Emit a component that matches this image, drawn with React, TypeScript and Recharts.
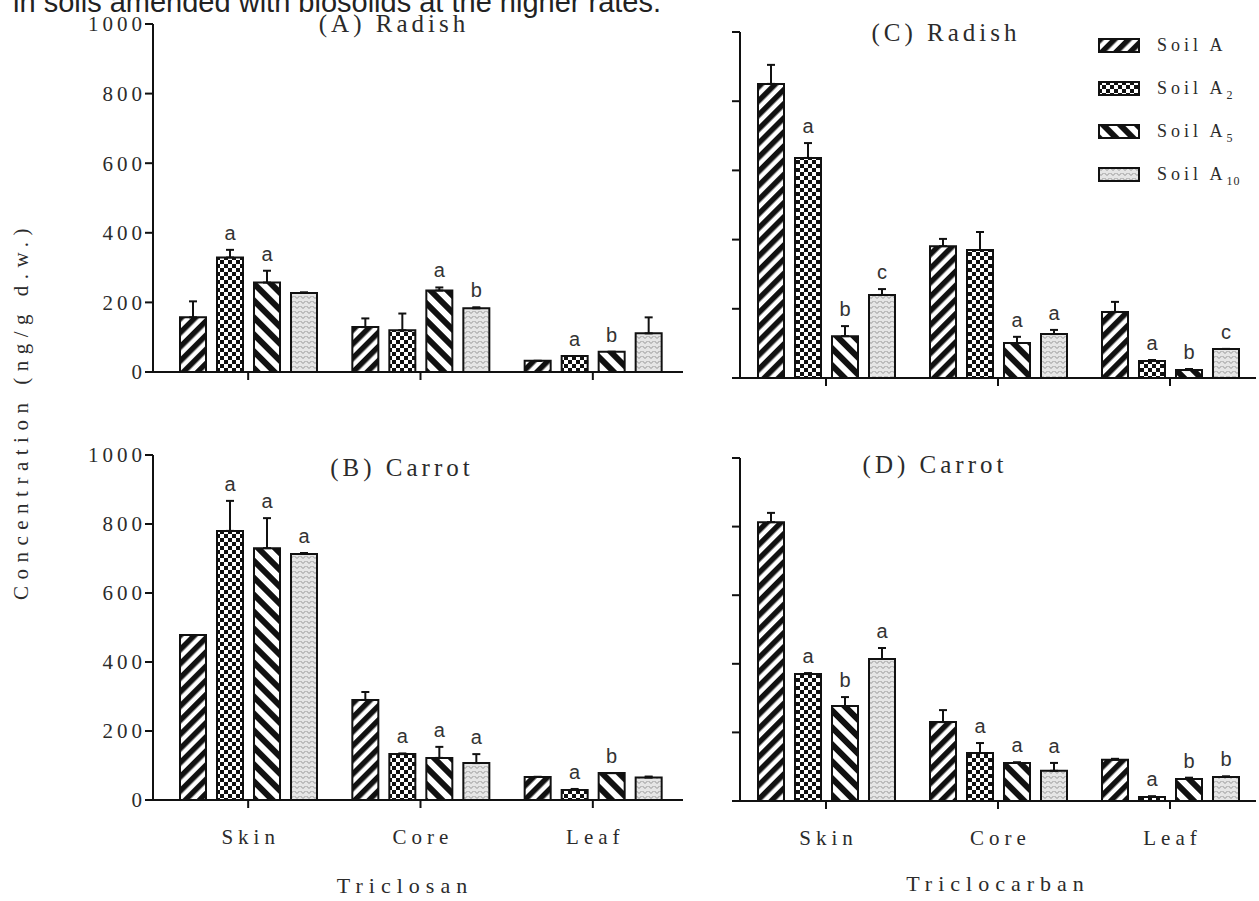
import React from 'react';
import { BarChart, Bar, XAxis, YAxis, ErrorBar, LabelList, Legend } from 'recharts';

const categories = ['Skin', 'Core', 'Leaf'];
const soilSubs = ['', '2', '5', '10'];
const yTicks = [0, 200, 400, 600, 800, 1000];

// rows: Skin, Core, Leaf  /  columns: Soil A, A2, A5, A10
const radishTCS = [[157, 329, 257, 227], [129, 120, 234, 183], [32, 46, 58, 111]];
const radishTCSErr = [[46, 22, 34, 2], [25, 48, 9, 3], [0, 0, 0, 46]];
const radishTCSSig = [['', 'a', 'a', ''], ['', '', 'a', 'b'], ['', 'a', 'b', '']];

const carrotTCS = [[478, 780, 730, 713], [290, 133, 122, 107], [67, 29, 78, 65]];
const carrotTCSErr = [[0, 87, 87, 3], [23, 2, 32, 26], [0, 3, 0, 3]];
const carrotTCSSig = [['', 'a', 'a', 'a'], ['', 'a', 'a', 'a'], ['', 'a', 'b', '']];

const radishTCC = [[850, 636, 121, 240], [381, 370, 101, 127], [191, 49, 23, 84]];
const radishTCCErr = [[55, 43, 29, 17], [21, 52, 18, 12], [29, 3, 3, 0]];
const radishTCCSig = [['', 'a', 'b', 'c'], ['', '', 'a', 'a'], ['', 'a', 'b', 'c']];

const carrotTCC = [[813, 370, 277, 414], [230, 140, 111, 88], [120, 12, 64, 70]];
const carrotTCCErr = [[27, 3, 26, 32], [35, 29, 2, 23], [3, 2, 4, 2]];
const carrotTCCSig = [['', 'a', 'b', 'a'], ['', 'a', 'a', 'a'], ['', 'a', 'b', 'b']];

const INK = '#111';
const TXT = '#2b2b2b';
const SERIF = '"Liberation Serif", "Times New Roman", serif';
const SANS = '"Liberation Sans", Arial, sans-serif';

const buildRows = (means: number[][], errs: number[][], sigs: string[][]) =>
  categories.map((cat, i) => {
    const row: { [key: string]: any } = { cat };
    means[i].forEach((v, k) => {
      row[`s${k}`] = v;
      row[`e${k}`] = [0, errs[i][k]];
      row[`l${k}`] = sigs[i][k];
    });
    return row;
  });

const Patterns = ({ pid }: { pid: string }) => (
  <defs>
    <pattern id={`${pid}-p0`} patternUnits="userSpaceOnUse" width="10" height="10" patternTransform="rotate(45)">
      <rect width="10" height="10" fill="#fff" />
      <rect width="5.5" height="10" fill={INK} />
    </pattern>
    <pattern id={`${pid}-p1`} patternUnits="userSpaceOnUse" width="8" height="8">
      <rect width="8" height="8" fill="#fff" />
      <rect width="4" height="4" fill={INK} />
      <rect x="4" y="4" width="4" height="4" fill={INK} />
    </pattern>
    <pattern id={`${pid}-p2`} patternUnits="userSpaceOnUse" width="12" height="12" patternTransform="rotate(-45)">
      <rect width="12" height="12" fill="#fff" />
      <rect width="6" height="12" fill={INK} />
    </pattern>
    <pattern id={`${pid}-p3`} patternUnits="userSpaceOnUse" width="6" height="5">
      <rect width="6" height="5" fill="#e6e6e6" />
      <path d="M0.5 1 L3 3.5 L5.5 1" stroke="#8a8a8a" strokeWidth="0.9" fill="none" />
    </pattern>
  </defs>
);

const letterAt = (means: number[][], errs: number[][], k: number) => (props: any) => {
  const { x, y, width, height, value, index } = props;
  if (!value) return null;
  const h = Math.abs(Number(height));
  const top = Number(y) - (errs[index][k] / means[index][k]) * h;
  return (
    <text x={Number(x) + Number(width) / 2} y={top - 10} textAnchor="middle" fontFamily={SANS} fontSize={20} fill="#333">
      {value}
    </text>
  );
};

const yTickLabel = (props: any) => (
  <text x={props.x + 3} y={props.y} dy="0.35em" textAnchor="end" fontFamily={SERIF} fontSize={21} letterSpacing={4} fill={TXT}>
    {props.payload.value}
  </text>
);

const xTickLabel = (props: any) => (
  <text x={props.x + 2.5} y={props.y} dy="0.71em" textAnchor="middle" fontFamily={SERIF} fontSize={21} letterSpacing={5} fill={TXT}>
    {props.payload.value}
  </text>
);

const noTick = () => <g />;

const SoilLegend = ({ pid }: { pid: string }) => (
  <div style={{ width: 160 }}>
    {soilSubs.map((sub, k) => (
      <div key={k} style={{ height: 43, display: 'flex', alignItems: 'center' }}>
        <svg width={42} height={15} style={{ marginRight: 17 }}>
          <rect x={1} y={1} width={40} height={13} fill={`url(#${pid}-p${k})`} stroke={INK} strokeWidth={2} />
        </svg>
        <svg width={100} height={30}>
          <text x={0} y={20} fontFamily={SERIF} fontSize={18} letterSpacing={4} fill={TXT}>
            Soil A
            {sub && <tspan dy={5} fontSize={12} letterSpacing={1}>{sub}</tspan>}
          </text>
        </svg>
      </div>
    ))}
  </div>
);

type PanelProps = {
  pid: string;
  means: number[][];
  errs: number[][];
  sigs: string[][];
  width: number;
  height: number;
  margin: { top: number; right: number; bottom: number; left: number };
  yAxisWidth: number;
  xAxisHeight: number;
  yLabels: boolean;
  xLabels: boolean;
  xPadding: { left: number; right: number };
  legend?: boolean;
};

const Panel = (p: PanelProps) => {
  const data = buildRows(p.means, p.errs, p.sigs);
  return (
    <BarChart width={p.width} height={p.height} data={data} margin={p.margin} barSize={26} barGap={11}>
      <Patterns pid={p.pid} />
      <XAxis
        dataKey="cat"
        interval={0}
        padding={p.xPadding}
        height={p.xAxisHeight}
        axisLine={{ stroke: INK, strokeWidth: 2 }}
        tickLine={{ stroke: INK, strokeWidth: 2 }}
        tickSize={8}
        tickMargin={21}
        tick={p.xLabels ? xTickLabel : noTick}
      />
      <YAxis
        width={p.yAxisWidth}
        domain={[0, 1000]}
        ticks={yTicks}
        interval={0}
        axisLine={{ stroke: INK, strokeWidth: 2 }}
        tickLine={{ stroke: INK, strokeWidth: 2 }}
        tickSize={8}
        tickMargin={2}
        tick={p.yLabels ? yTickLabel : noTick}
      />
      {soilSubs.map((_, k) => (
        <Bar key={k} dataKey={`s${k}`} fill={`url(#${p.pid}-p${k})`} stroke={INK} strokeWidth={2} isAnimationActive={false}>
          <ErrorBar dataKey={`e${k}`} width={4} stroke={INK} strokeWidth={2} direction="y" />
          <LabelList dataKey={`l${k}`} content={letterAt(p.means, p.errs, k)} />
        </Bar>
      ))}
      {p.legend && (
        <Legend
          layout="horizontal"
          verticalAlign="middle"
          align="center"
          wrapperStyle={{ top: 24, left: 398, width: 160, height: 172 }}
          content={() => <SoilLegend pid={p.pid} />}
        />
      )}
    </BarChart>
  );
};

export default function App() {
  return (
    <div style={{ position: 'absolute', left: 0, top: 0, width: 1259, height: 901, background: '#fff', overflow: 'hidden' }}>
      <div style={{ position: 'absolute', left: 0, top: 0 }}>
        <Panel pid="pa" means={radishTCS} errs={radishTCSErr} sigs={radishTCSSig} width={700} height={400}
          margin={{ top: 24, right: 17, bottom: 0, left: 93 }} yAxisWidth={60} xAxisHeight={28}
          yLabels xLabels={false} xPadding={{ left: 9, right: 4 }} />
      </div>
      <div style={{ position: 'absolute', left: 0, top: 430 }}>
        <Panel pid="pb" means={carrotTCS} errs={carrotTCSErr} sigs={carrotTCSSig} width={700} height={430}
          margin={{ top: 25, right: 17, bottom: 0, left: 93 }} yAxisWidth={60} xAxisHeight={60}
          yLabels xLabels xPadding={{ left: 9, right: 4 }} />
      </div>
      <div style={{ position: 'absolute', left: 700, top: 0 }}>
        <Panel pid="pc" means={radishTCC} errs={radishTCCErr} sigs={radishTCCSig} width={559} height={410}
          margin={{ top: 32, right: 3, bottom: 0, left: 0 }} yAxisWidth={40} xAxisHeight={32}
          yLabels={false} xLabels={false} xPadding={{ left: 0, right: 0 }} legend />
      </div>
      <div style={{ position: 'absolute', left: 700, top: 430 }}>
        <Panel pid="pd" means={carrotTCC} errs={carrotTCCErr} sigs={carrotTCCSig} width={559} height={430}
          margin={{ top: 28, right: 3, bottom: 0, left: 0 }} yAxisWidth={40} xAxisHeight={59}
          yLabels={false} xLabels xPadding={{ left: 0, right: 0 }} />
      </div>
      <svg width={1259} height={901} style={{ position: 'absolute', left: 0, top: 0, pointerEvents: 'none' }}>
        <text x={13} y={12} fontFamily={SANS} fontSize={29} fill="#222">in soils amended with biosolids at the higher rates.</text>
        <g fontFamily={SERIF} fontSize={25} letterSpacing={4} fill={TXT} textAnchor="middle">
          <text x={394} y={32}>(A) Radish</text>
          <text x={946} y={41}>(C) Radish</text>
          <text x={402} y={476}>(B) Carrot</text>
          <text x={935} y={473}>(D) Carrot</text>
        </g>
        <text transform="translate(28,411) rotate(-90)" textAnchor="middle" fontFamily={SERIF} fontSize={21} letterSpacing={6.5} fill={TXT}>
          Concentration (ng/g d.w.)
        </text>
        <g fontFamily={SERIF} fontSize={22} letterSpacing={6} fill={TXT} textAnchor="middle">
          <text x={405} y={893}>Triclosan</text>
          <text x={998} y={891}>Triclocarban</text>
        </g>
      </svg>
    </div>
  );
}
